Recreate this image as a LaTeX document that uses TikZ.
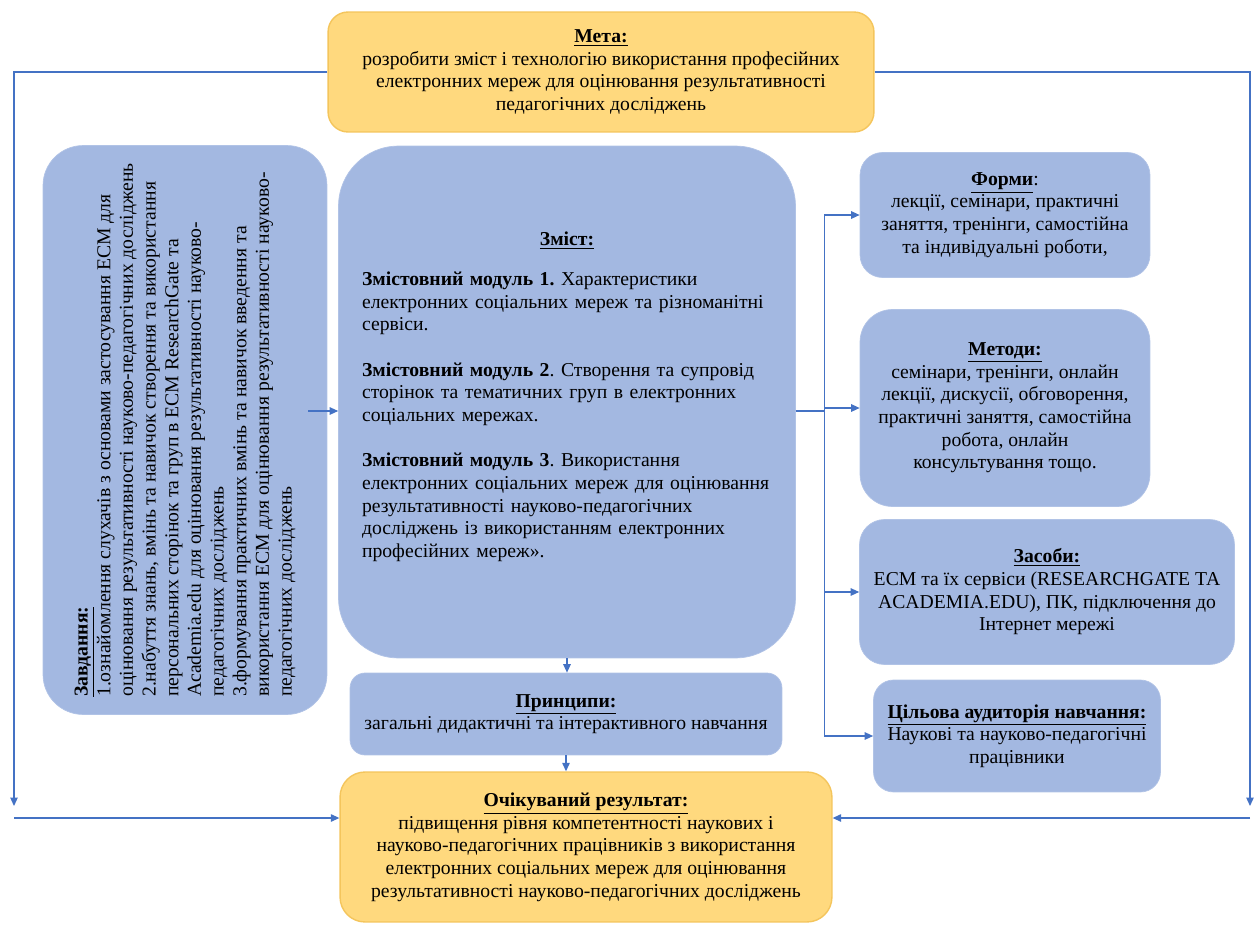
\documentclass[tikz,border=0pt]{standalone}
\usepackage{fontspec}
\setmainfont{Liberation Serif}
\usepackage{tikz}
\usetikzlibrary{calc,arrows.meta}

\definecolor{boxblue}{HTML}{A3B8E1}
\definecolor{boxgold}{HTML}{FFD97E}
\definecolor{goldline}{HTML}{F4C55C}
\definecolor{arrowblue}{HTML}{4472C4}

\begin{document}
\begin{tikzpicture}[
    x=0.02cm, y=-0.02cm,
    % The boxes:
    box/.style={
        rounded corners=#1,
        inner sep=0pt,
        align=center,
        font=\fontsize{11.2}{12.9}\selectfont\frenchspacing},
    bluebox/.style={box=#1, fill=boxblue, draw=boxblue!85!white},
    goldbox/.style={box=#1, fill=boxgold, draw=goldline, thick},
    % The connectors:
    arr/.style={
        draw=arrowblue,
        line width=0.7pt,
        -{Triangle[length=1.7mm,width=1.5mm]}}]
  \useasboundingbox (0,0) rectangle (1259,930);

  % top and bottom
  \node (meta) [goldbox=0.4cm, minimum width=10.92cm, minimum height=2.4cm] at (601,72)
    {\underline{\textbf{Мета:}}\\
     розробити зміст і технологію використання професійних\\
     електронних мереж для оцінювання результативності\\
     педагогічних досліджень};
  \node (result) [goldbox=0.5cm, minimum width=9.84cm, minimum height=3cm] at (586,847)
    {\underline{\textbf{Очікуваний результат:}}\\
     підвищення рівня компетентності наукових і\\
     науково-педагогічних працівників з використання\\
     електронних соціальних мереж для оцінювання\\
     результативності науково-педагогічних досліджень};

  % left column (rotated)
  \node (zav) [bluebox=0.8cm, rotate=90, align=left, minimum width=11.38cm, minimum height=5.68cm] at (185,430)
    {\underline{\textbf{Завдання:}}\\
     1.ознайомлення слухачів з основами застосування ЕСМ для\\
     оцінювання результативності науково-педагогічних досліджень\\
     2.набуття знань, вмінь та навичок створення та використання\\
     персональних сторінок та груп в ЕСМ ResearchGate та\\
     Academia.edu для оцінювання результативності науково-\\
     педагогічних досліджень\\
     3.формування практичних вмінь та навичок введення та\\
     використання ЕСМ для оцінювання результативності науково-\\
     педагогічних досліджень};

  % middle column
  \node (zmist) [bluebox=1.2cm, align=left, text width=8.2cm, minimum width=9.14cm, minimum height=10.24cm] at (567,402)
    {\centerline{\underline{\textbf{Зміст:}}}\vspace{10pt}
     \textbf{Змістовний модуль 1.} Характеристики\\
     електронних соціальних мереж та різноманітні\\
     сервіси.\\[12.9pt]
     \textbf{Змістовний модуль 2}. Створення та супровід\\
     сторінок та тематичних груп в електронних\\
     соціальних мережах.\\[12.9pt]
     \textbf{Змістовний модуль 3}. Використання\\
     електронних соціальних мереж для оцінювання\\
     результативності науково-педагогічних\\
     досліджень із використанням електронних\\
     професійних мереж».\\[-0.16cm]\mbox{}};
  \node (princ) [bluebox=0.3cm, minimum width=8.64cm, minimum height=1.64cm] at (566,714)
    {\underline{\textbf{Принципи:}}\\
     загальні дидактичні та інтерактивного навчання};

  % right column
  \node (forms) [bluebox=0.45cm, minimum width=5.8cm, minimum height=2.5cm] at (1005,215)
    {\underline{\textbf{Форми}}:\\
     лекції, семінари, практичні\\
     заняття, тренінги, самостійна\\
     та індивідуальні роботи,};
  \node (methods) [bluebox=0.65cm, minimum width=5.8cm, minimum height=3.94cm] at (1005,408)
    {\underline{\textbf{Методи:}}\\
     семінари, тренінги, онлайн\\
     лекції, дискусії, обговорення,\\
     практичні заняття, самостійна\\
     робота, онлайн\\
     консультування тощо.};
  \node (means) [bluebox=0.5cm, minimum width=7.5cm, minimum height=2.9cm] at (1047,592)
    {\underline{\textbf{Засоби:}}\\
     ЕСМ та їх сервіси (RESEARCHGATE ТА\\
     ACADEMIA.EDU), ПК, підключення до\\
     Інтернет мережі};
  \node (target) [bluebox=0.4cm, minimum width=5.74cm, minimum height=2.24cm] at (1017,736)
    {\underline{\textbf{Цільова аудиторія навчання:}}\\
     Наукові та науково-педагогічні\\
     працівники};

  % connectors
  \coordinate (lcorner) at (14,806);
  \coordinate (rcorner) at (1250,806);
  \coordinate (lfoot) at (14,818);
  \coordinate (rfoot) at (1250,818);
  \coordinate (bus) at ($(zmist.east)+(29,9)$);
  \draw[arr] (meta.west) -| (lcorner);
  \draw[arr] (meta.east) -| (rcorner);
  \draw[arr] (lfoot) -- (lfoot -| result.west);
  \draw[arr] (rfoot) -- (rfoot -| result.east);
  \draw[arr] ($(zav.south |- bus)+(-19,0)$) -- (zav.south |- bus) -- (zmist.west |- bus);
  \foreach \n in {forms,methods,means,target}
    \draw[arr] (zmist.east |- bus) -- (bus) |- (\n.west);
  \draw[arr] (zmist.south) -- (zmist.south |- princ.north);
  \draw[arr] (princ.south) -- (princ.south |- result.north);
\end{tikzpicture}
\end{document}
